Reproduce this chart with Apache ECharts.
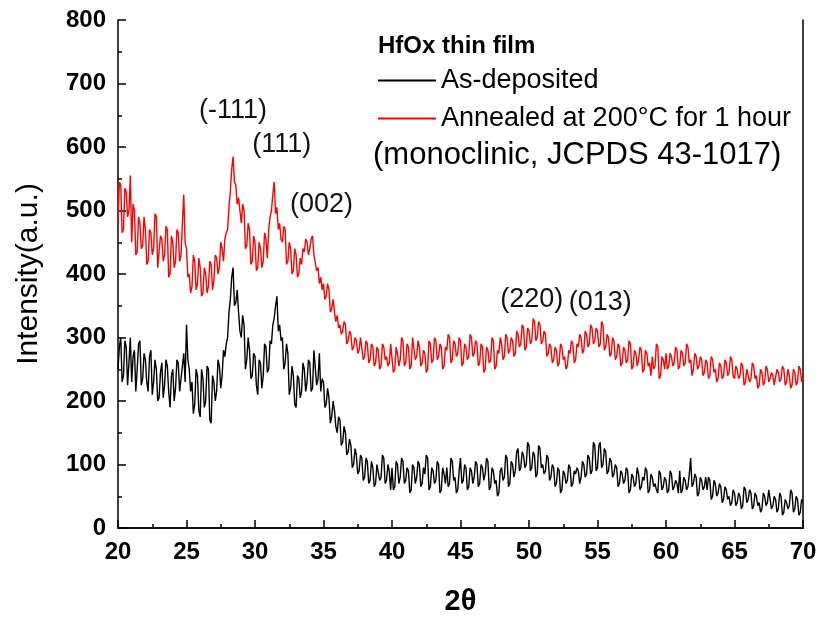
<!DOCTYPE html>
<html>
<head>
<meta charset="utf-8">
<script src="https://cdn.jsdelivr.net/npm/echarts@6/dist/echarts.min.js"></script>
<style>
  html, body { margin: 0; padding: 0; background: #fff; }
  #chart { width: 822px; height: 621px; }
</style>
</head>
<body>
<div id="chart"></div>
<script>
// 2theta grid: 20 to 70 in steps of 0.1
const thetaStart = 20;
const thetaStep = 0.1;

const seriesNames = ["As-deposited", "Annealed at 200\u00B0C for 1 hour"];

// As-deposited intensity, one row per degree
const asDeposited = [
    250, 285, 300, 230, 240, 295, 285, 225, 260, 300,
    230, 270, 280, 215, 250, 290, 295, 225, 235, 275,
    265, 230, 215, 270, 280, 210, 230, 265, 250, 200,
    205, 245, 260, 205, 225, 265, 255, 215, 190, 240,
    250, 200, 220, 265, 260, 215, 235, 255, 275, 230,
    320, 265, 250, 215, 230, 180, 195, 250, 240, 185,
    175, 250, 235, 190, 200, 255, 250, 170, 165, 240,
    230, 200, 215, 265, 255, 220, 240, 280, 270, 290,
    300, 340, 360, 395, 410, 350, 355, 375, 340, 310,
    300, 335, 320, 250, 265, 300, 280, 235, 240, 275,
    270, 225, 210, 265, 260, 220, 240, 290, 285, 245,
    250, 295, 290, 320, 330, 350, 365, 310, 320, 295,
    300, 250, 260, 290, 275, 210, 220, 255, 240, 195,
    190, 240, 235, 205, 215, 260, 250, 215, 230, 265,
    260, 215, 220, 280, 280, 225, 235, 275, 215, 235,
    230, 190, 195, 220, 205, 165, 175, 200, 185, 160,
    150, 175, 170, 130, 135, 160, 150, 115, 120, 140,
    130, 95, 100, 125, 115, 85, 90, 115, 110, 75,
    80, 110, 105, 70, 75, 105, 95, 65, 70, 100,
    100, 75, 80, 115, 110, 70, 75, 100, 90, 60,
    95, 60, 65, 105, 100, 70, 80, 110, 105, 70,
    75, 95, 90, 55, 60, 100, 95, 70, 80, 105,
    100, 65, 70, 95, 85, 115, 110, 60, 65, 95,
    90, 70, 75, 105, 100, 55, 60, 95, 85, 70,
    95, 65, 70, 110, 105, 75, 80, 55, 60, 90,
    110, 70, 75, 100, 95, 60, 65, 95, 90, 70,
    80, 105, 100, 65, 70, 100, 95, 75, 85, 110,
    105, 60, 65, 95, 90, 70, 75, 50, 55, 90,
    95, 75, 80, 115, 110, 65, 70, 105, 100, 80,
    90, 120, 125, 90, 95, 120, 115, 95, 100, 135,
    130, 90, 95, 120, 115, 80, 85, 130, 125, 95,
    100, 85, 90, 115, 110, 75, 80, 100, 95, 65,
    70, 95, 90, 55, 60, 90, 85, 70, 75, 100,
    95, 65, 70, 90, 85, 95, 90, 70, 80, 105,
    100, 80, 85, 115, 110, 85, 90, 135, 130, 90,
    95, 130, 135, 95, 100, 125, 120, 85, 90, 110,
    105, 80, 85, 100, 95, 65, 70, 90, 85, 70,
    75, 95, 90, 55, 60, 85, 80, 65, 70, 95,
    85, 60, 65, 80, 75, 95, 90, 55, 60, 85,
    80, 65, 70, 60, 55, 90, 85, 60, 65, 80,
    75, 55, 60, 90, 85, 60, 65, 75, 70, 55,
    90, 55, 60, 80, 75, 60, 65, 85, 110, 65,
    70, 85, 80, 50, 55, 80, 75, 60, 65, 80,
    60, 80, 75, 45, 50, 75, 70, 50, 55, 70,
    65, 40, 45, 65, 60, 45, 50, 35, 40, 60,
    55, 35, 40, 55, 50, 30, 35, 65, 60, 40,
    45, 60, 55, 30, 35, 55, 50, 35, 40, 25,
    30, 55, 50, 35, 40, 60, 60, 30, 35, 50,
    45, 25, 30, 55, 50, 20, 25, 45, 40, 30,
    35, 60, 55, 25, 30, 50, 45, 20, 25, 45,
    40
];

// Annealed intensity, one row per degree
const annealed = [
    480, 545, 540, 465, 470, 535, 530, 490, 500, 555,
    450, 510, 500, 430, 435, 490, 480, 440, 445, 490,
    470, 415, 420, 470, 465, 430, 440, 495, 490, 410,
    410, 460, 455, 420, 430, 475, 470, 395, 400, 460,
    450, 410, 420, 470, 465, 420, 430, 480, 525, 450,
    440, 395, 400, 370, 380, 430, 420, 375, 385, 425,
    410, 365, 370, 410, 400, 370, 380, 420, 415, 375,
    390, 430, 425, 400, 410, 450, 440, 420, 455, 465,
    470, 505, 530, 565, 585, 545, 540, 510, 520, 500,
    480, 510, 500, 440, 445, 480, 470, 415, 420, 460,
    450, 405, 410, 450, 440, 410, 420, 465, 455, 425,
    470, 490, 500, 525, 545, 495, 505, 470, 480, 455,
    450, 475, 470, 415, 420, 450, 440, 400, 405, 440,
    430, 395, 400, 425, 415, 440, 435, 455, 450, 430,
    440, 455, 460, 430, 430, 405, 410, 385, 395, 375,
    385, 360, 365, 385, 375, 340, 345, 360, 340, 325,
    335, 315, 320, 305, 310, 325, 320, 290, 295, 310,
    305, 280, 285, 300, 295, 275, 280, 300, 300, 265,
    270, 295, 290, 260, 265, 290, 285, 255, 260, 285,
    280, 250, 255, 290, 285, 265, 270, 255, 260, 290,
    290, 245, 250, 285, 275, 255, 265, 300, 295, 255,
    260, 290, 285, 250, 255, 300, 300, 265, 270, 295,
    285, 255, 260, 280, 275, 245, 250, 295, 290, 260,
    265, 300, 295, 265, 270, 290, 285, 250, 255, 285,
    280, 305, 300, 260, 265, 295, 290, 270, 275, 300,
    295, 255, 260, 290, 285, 265, 270, 305, 300, 270,
    275, 295, 290, 255, 260, 290, 285, 245, 250, 285,
    280, 260, 265, 300, 295, 250, 255, 280, 275, 300,
    290, 265, 270, 305, 300, 275, 280, 300, 295, 270,
    275, 310, 305, 285, 290, 320, 315, 280, 285, 315,
    310, 290, 295, 330, 325, 295, 300, 325, 320, 290,
    295, 310, 305, 270, 275, 290, 285, 260, 265, 285,
    280, 255, 260, 290, 285, 265, 270, 250, 255, 280,
    275, 295, 290, 260, 265, 290, 285, 305, 300, 275,
    280, 310, 305, 285, 290, 320, 315, 290, 295, 315,
    310, 285, 290, 325, 320, 280, 285, 305, 300, 270,
    275, 300, 295, 265, 270, 290, 285, 255, 260, 285,
    280, 260, 265, 295, 290, 250, 255, 280, 275, 255,
    265, 285, 280, 245, 250, 280, 275, 255, 260, 240,
    270, 250, 255, 290, 285, 235, 240, 270, 265, 250,
    275, 250, 255, 275, 270, 255, 260, 285, 280, 250,
    255, 280, 275, 255, 260, 290, 285, 260, 265, 240,
    250, 275, 270, 250, 255, 270, 265, 240, 245, 265,
    260, 235, 240, 270, 265, 245, 250, 230, 235, 260,
    255, 235, 240, 265, 260, 240, 245, 270, 265, 240,
    235, 255, 250, 235, 240, 260, 255, 225, 230, 250,
    250, 230, 235, 260, 255, 235, 240, 220, 225, 250,
    245, 225, 230, 255, 250, 230, 235, 245, 240, 225,
    225, 250, 245, 230, 235, 255, 250, 225, 230, 250,
    240, 220, 225, 250, 245, 225, 230, 255, 250, 230,
    235
];

// peak labels: [text, 2theta, intensity]
const peakLabels = [
    ["(-111)", 28.4, 657],
    ["(111)", 31.95, 604],
    ["(002)", 34.85, 510],
    ["(220)", 50.2, 360],
    ["(013)", 55.2, 355]
];

const xTicks = [20, 25, 30, 35, 40, 45, 50, 55, 60, 65, 70];
const yTicks = [0, 100, 200, 300, 400, 500, 600, 700, 800];

const font = "'Liberation Sans', Arial, sans-serif";

function toPairs(values) {
    return values.map((v, i) => [+(thetaStart + i * thetaStep).toFixed(1), v]);
}

const chart = echarts.init(document.getElementById("chart"));

const axisLine = {show: true, lineStyle: {color: "#000", width: 1.5}};

chart.setOption({
    animation: false,
    backgroundColor: "#fff",
    grid: {left: 118, right: 19, top: 20, bottom: 92},
    legend: {
        orient: "vertical",
        left: 373,
        top: 62,
        itemGap: 11,
        itemWidth: 58,
        itemHeight: 2,
        itemTextGap: 10,
        icon: "rect",
        selectedMode: false,
        data: seriesNames,
        textStyle: {fontFamily: font, fontSize: 27, color: "#000"}
    },
    graphic: [
        {type: "text", left: 378, top: 34,
         style: {text: "HfOx thin film", font: "bold 24px " + font, fill: "#000"}},
        {type: "text", left: 373, top: 140,
         style: {text: "(monoclinic, JCPDS 43-1017)", font: "31px " + font, fill: "#000"}}
    ],
    xAxis: [{
        type: "value",
        min: 20, max: 70, interval: 5,
        name: "2\u03B8",
        nameLocation: "middle",
        nameGap: 59,
        nameTextStyle: {fontFamily: font, fontSize: 29, fontWeight: "bold", color: "#000"},
        axisLine: axisLine,
        axisTick: {inside: true, length: 8, lineStyle: {color: "#000", width: 1.5}},
        minorTick: {show: true, splitNumber: 2, length: 4, lineStyle: {color: "#000", width: 1.5}},
        axisLabel: {
            margin: 12, fontFamily: font, fontSize: 24, fontWeight: "bold", color: "#000",
            formatter: v => xTicks.includes(v) ? String(v) : ""
        },
        splitLine: {show: false}
    }, {
        type: "value", position: "top", min: 20, max: 70,
        axisLine: axisLine, axisTick: {show: false}, axisLabel: {show: false}, splitLine: {show: false}
    }],
    yAxis: [{
        type: "value",
        min: 0, max: 800, interval: 100,
        name: "Intensity(a.u.)",
        nameLocation: "middle",
        nameGap: 74,
        nameTextStyle: {fontFamily: font, fontSize: 30, color: "#000", padding: [0, 0, 0, 0]},
        axisLine: axisLine,
        axisTick: {inside: true, length: 8, lineStyle: {color: "#000", width: 1.5}},
        minorTick: {show: true, splitNumber: 2, length: 4, lineStyle: {color: "#000", width: 1.5}},
        axisLabel: {
            margin: 12, fontFamily: font, fontSize: 24, fontWeight: "bold", color: "#000",
            formatter: v => yTicks.includes(v) ? String(v) : ""
        },
        splitLine: {show: false}
    }, {
        type: "value", position: "right", min: 0, max: 800,
        axisLine: axisLine, axisTick: {show: false}, axisLabel: {show: false}, splitLine: {show: false}
    }],
    series: [{
        name: seriesNames[0],
        type: "line",
        data: toPairs(asDeposited),
        symbol: "none",
        color: "#000",
        lineStyle: {color: "#000", width: 1.4},
        z: 3
    }, {
        name: seriesNames[1],
        type: "line",
        data: toPairs(annealed),
        symbol: "none",
        color: "#ff0000",
        lineStyle: {color: "#ff0000", width: 1.4},
        z: 2,
        markPoint: {
            symbol: "circle",
            symbolSize: 1,
            silent: true,
            itemStyle: {color: "rgba(0,0,0,0)"},
            label: {
                show: true,
                position: "inside",
                fontFamily: font, fontSize: 27, color: "#111",
                formatter: p => p.name
            },
            data: peakLabels.map(p => ({name: p[0], coord: [p[1], p[2]]}))
        }
    }]
});
</script>
</body>
</html>
